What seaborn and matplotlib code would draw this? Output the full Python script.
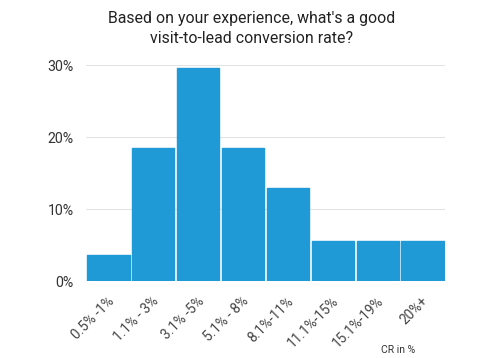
import numpy as np
import pandas as pd
import matplotlib.pyplot as plt
import seaborn as sns
from matplotlib.ticker import FuncFormatter
import matplotlib.transforms as mtransforms

# Data (share of respondents, %)
ranges = ["0.5% -1%", "1.1% - 3%", "3.1% -5%", "5.1% - 8%", "8.1%-11%",
          "11.1%-15%", "15.1%-19%", "20%+"]
shares = [3.7, 18.5, 29.6, 18.5, 13.0, 5.6, 5.6, 5.6]

df = pd.DataFrame({"range": ranges, "share": shares})

sns.set_theme(style="white")
plt.rcParams['font.family'] = ['Roboto', 'DejaVu Sans']

fig = plt.figure(figsize=(4.99, 3.58), dpi=100)
ax = fig.add_axes([0.1723, 0.2142, 0.7195, 0.6034])

sns.barplot(data=df, x="range", y="share", color="#1f9ad6", saturation=1,
            width=0.94, ax=ax, zorder=3)
for p in ax.patches:
    p.set_edgecolor("#1f9ad6")
    p.set_linewidth(1.0)
    p.set_joinstyle("round")

ax.set_ylim(0, 30)
ax.set_xlim(-0.5, len(ranges) - 0.5)
ax.set_yticks([0, 10, 20, 30])
ax.yaxis.set_major_formatter(FuncFormatter(lambda v, _: f"{v:.0f}%"))
ax.grid(axis="y", color="#e3e3e3", linewidth=0.8, zorder=0)
ax.set_axisbelow(True)
sns.despine(ax=ax, left=True, bottom=True)

ax.set_xlabel("")
ax.set_ylabel("")
ax.tick_params(axis="y", length=0, pad=9, labelsize=10.2, labelcolor="#333333")
ax.tick_params(axis="x", length=0, pad=9, labelsize=9.8, labelcolor="#444444")
offset = mtransforms.ScaledTranslation(-1 / 72, 0, fig.dpi_scale_trans)
for lbl in ax.get_xticklabels():
    lbl.set_rotation(45)
    lbl.set_ha("right")
    lbl.set_rotation_mode("anchor")
    lbl.set_transform(lbl.get_transform() + offset)

fig.text(0.505, 0.97, "Based on your experience, what's a good\nvisit-to-lead conversion rate?",
         ha="center", va="top", fontsize=11.4, color="#222222", linespacing=1.42)
fig.text(0.798, 0.022, "CR in %", ha="center", va="center", fontsize=7.5, color="#333333")

fig.savefig("out.png", dpi=100)
